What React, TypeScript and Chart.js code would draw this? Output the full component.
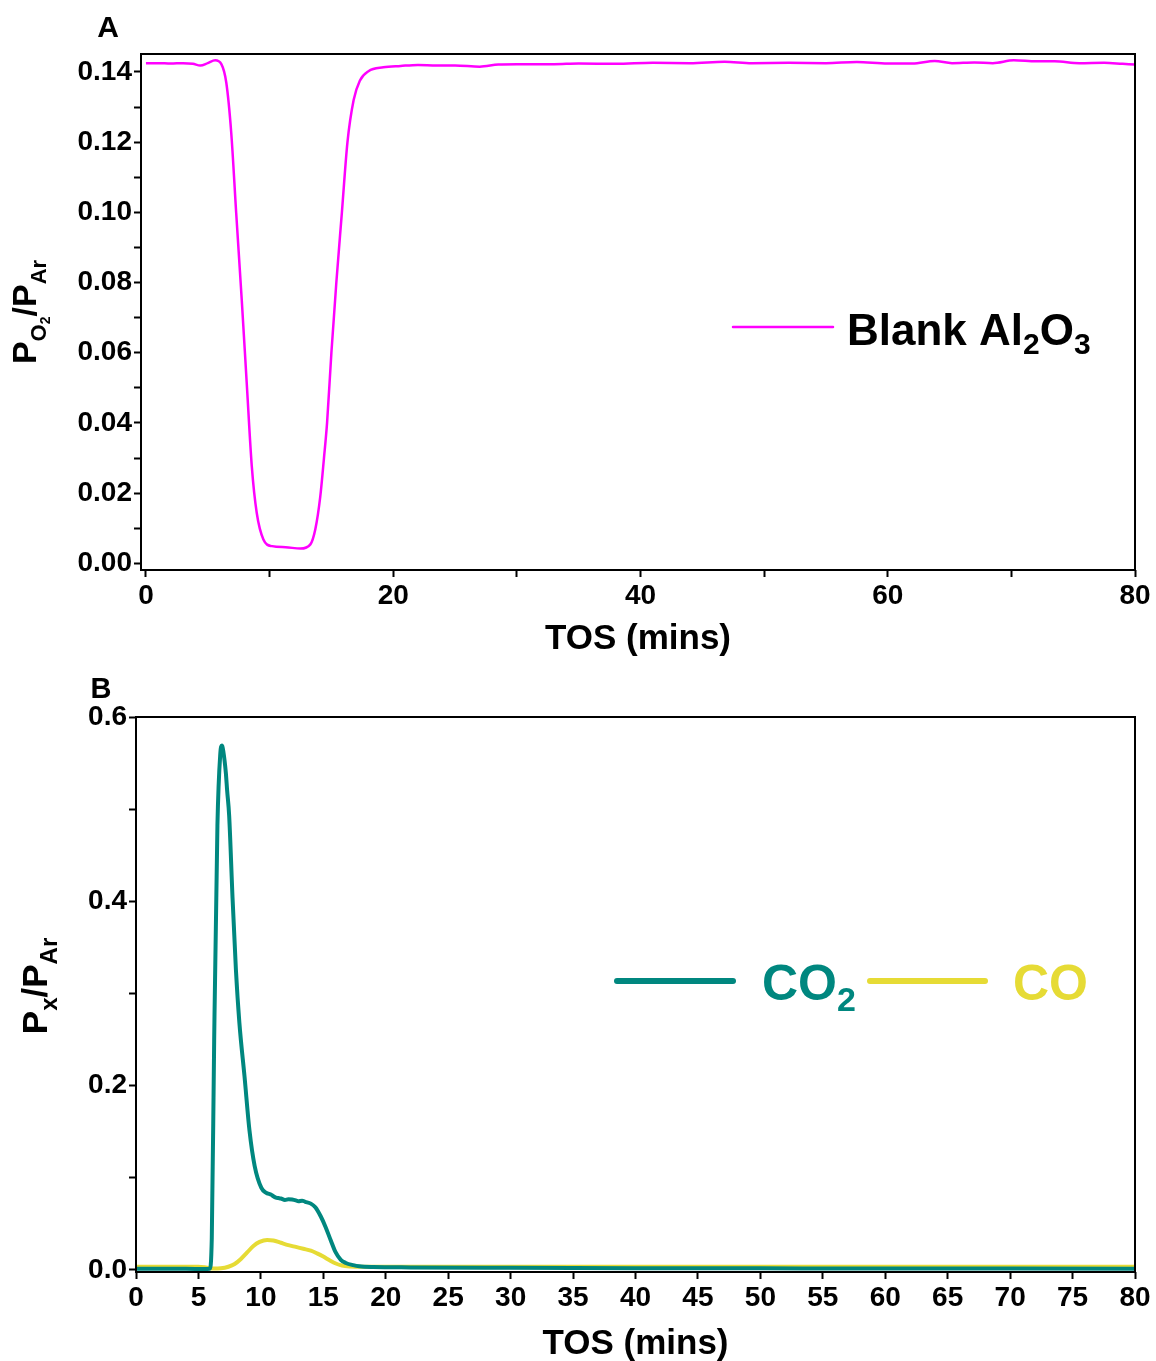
import React, { useEffect, useRef } from "react";
import { Chart, registerables } from "chart.js";

Chart.register(...registerables);

const FONT = '"Liberation Sans", Arial, Helvetica, sans-serif';

// Panel A: O2/Ar ratio over blank Al2O3 vs time on stream
const timeA = [
  0, 1, 2, 3, 3.8, 4.4, 5.0, 5.6, 6.1, 6.5, 6.9, 7.3, 7.75, 8.15, 8.56, 8.96,
  9.5, 10.2, 11.3, 12.5, 13.3, 13.7, 14.1, 14.4, 14.65, 15.0, 15.4, 15.85, 16.3,
  16.8, 17.3, 18.0, 19.2, 20.6, 22, 23.5, 25, 27, 28.5, 30, 33, 35, 38, 41, 44,
  46.8, 49, 52, 55, 57.5, 60, 62, 63.8, 65.2, 67, 68.5, 70.2, 72, 73.5, 75.5,
  77.5, 79, 80,
];
const o2A = [
  0.1425, 0.1425, 0.1424, 0.1425, 0.1423, 0.1418, 0.1425, 0.1433, 0.1422,
  0.1369, 0.1226, 0.0998, 0.075, 0.0515, 0.0277, 0.0144, 0.0068, 0.0049,
  0.0046, 0.0042, 0.0054, 0.0097, 0.019, 0.03, 0.04, 0.06, 0.08, 0.1, 0.12,
  0.132, 0.1375, 0.1402, 0.1413, 0.1417, 0.142, 0.1418, 0.1418, 0.1415, 0.1421,
  0.1422, 0.1422, 0.1424, 0.1423, 0.1426, 0.1425, 0.1429, 0.1425, 0.1426,
  0.1425, 0.1428, 0.1424, 0.1424, 0.1431, 0.1425, 0.1427, 0.1425, 0.1433,
  0.143, 0.143, 0.1425, 0.1426, 0.1423, 0.1421,
];
const xTicksA = [0, 10, 20, 30, 40, 50, 60, 70, 80];
const xLabelsA = [0, 20, 40, 60, 80];
const yTicksA = [
  0, 0.01, 0.02, 0.03, 0.04, 0.05, 0.06, 0.07, 0.08, 0.09, 0.1, 0.11, 0.12,
  0.13, 0.14,
];
const yLabelsA = [0, 0.02, 0.04, 0.06, 0.08, 0.1, 0.12, 0.14];

// Panel B: CO2/Ar and CO/Ar vs time on stream
const timeCO2 = [
  0, 2, 4, 5.5, 5.9, 6.07, 6.26, 6.52, 6.75, 6.88, 7.0, 7.19, 7.3, 7.46, 7.73,
  8.0, 8.28, 8.69, 9.09, 9.5, 10.04, 10.4, 10.85, 11.0, 11.2, 11.4, 11.6,
  11.93, 12.2, 12.5, 12.8, 13.0, 13.3, 13.55, 14.0, 14.36, 14.8, 15.17, 15.6,
  15.97, 16.4, 16.8, 17.4, 17.88, 19, 22, 30, 40, 50, 60, 70, 80,
];
const co2B = [
  0.0012, 0.0012, 0.0012, 0.001, 0.0012, 0.035, 0.249, 0.482, 0.56, 0.569,
  0.562, 0.54, 0.52, 0.493, 0.404, 0.326, 0.268, 0.21, 0.151, 0.113, 0.089,
  0.084, 0.0815, 0.08, 0.0785, 0.078, 0.0775, 0.076, 0.0768, 0.0765, 0.0755,
  0.0745, 0.0752, 0.074, 0.072, 0.068, 0.058, 0.047, 0.032, 0.0196, 0.011,
  0.0076, 0.0052, 0.004, 0.0032, 0.0028, 0.0024, 0.002, 0.0018, 0.0016,
  0.0015, 0.0014,
];
const timeCO = [
  0, 3, 5, 5.6, 6.2, 6.8, 7.4, 7.9, 8.4, 8.9, 9.4, 9.9, 10.5, 11.0, 11.6, 12.2,
  12.8, 13.4, 14.0, 14.5, 15.0, 15.5, 16.0, 16.5, 17.2, 18, 25, 40, 60, 80,
];
const coB = [
  0.0036, 0.0036, 0.0036, 0.0028, 0.0015, 0.0018, 0.0035, 0.0065, 0.012, 0.019,
  0.026, 0.0305, 0.0326, 0.032, 0.0295, 0.027, 0.025, 0.023, 0.021, 0.018,
  0.0145, 0.0105, 0.007, 0.0048, 0.0038, 0.0035, 0.0036, 0.0036, 0.0036,
  0.0036,
];
const xTicksB = [
  0, 5, 10, 15, 20, 25, 30, 35, 40, 45, 50, 55, 60, 65, 70, 75, 80,
];
const yTicksB = [0, 0.1, 0.2, 0.3, 0.4, 0.5, 0.6];
const yLabelsB = [0, 0.2, 0.4, 0.6];

const MAGENTA = "#FF00FF";
const TEAL = "#00877F";
const YELLOW = "#E6DB35";

type Run = { text: string; size: number; shift: number };

function runsWidth(ctx: CanvasRenderingContext2D, runs: Run[]) {
  let w = 0;
  for (const r of runs) {
    ctx.font = `bold ${r.size}px ${FONT}`;
    w += ctx.measureText(r.text).width;
  }
  return w;
}

function drawRuns(
  ctx: CanvasRenderingContext2D,
  runs: Run[],
  x: number,
  y: number,
  align: "left" | "center",
  color: string
) {
  ctx.save();
  ctx.fillStyle = color;
  ctx.textAlign = "left";
  ctx.textBaseline = "alphabetic";
  let cx = align === "center" ? x - runsWidth(ctx, runs) / 2 : x;
  for (const r of runs) {
    ctx.font = `bold ${r.size}px ${FONT}`;
    ctx.fillText(r.text, cx, y + r.shift);
    cx += ctx.measureText(r.text).width;
  }
  ctx.restore();
}

function drawRotatedRuns(
  ctx: CanvasRenderingContext2D,
  runs: Run[],
  x: number,
  y: number
) {
  ctx.save();
  ctx.translate(x, y);
  ctx.rotate(-Math.PI / 2);
  drawRuns(ctx, runs, 0, 0, "center", "#000");
  ctx.restore();
}

function legendLine(
  ctx: CanvasRenderingContext2D,
  x1: number,
  x2: number,
  y: number,
  color: string,
  width: number
) {
  ctx.save();
  ctx.strokeStyle = color;
  ctx.lineWidth = width;
  ctx.lineCap = "round";
  ctx.beginPath();
  ctx.moveTo(x1, y);
  ctx.lineTo(x2, y);
  ctx.stroke();
  ctx.restore();
}

const isIn = (list: number[], v: number) =>
  list.some((l) => Math.abs(l - v) < 1e-9);

function linearAxis(opts: {
  min: number;
  max: number;
  ticks: number[];
  labels: number[];
  digits: number;
  fit: (scale: any) => void;
}) {
  return {
    type: "linear" as const,
    min: opts.min,
    max: opts.max,
    afterBuildTicks: (scale: any) => {
      scale.ticks = opts.ticks.map((v) => ({ value: v }));
    },
    afterFit: opts.fit,
    border: { display: false },
    grid: {
      display: true,
      drawOnChartArea: false,
      drawTicks: true,
      tickLength: 7,
      tickWidth: 2,
      tickColor: "#000",
    },
    ticks: {
      autoSkip: false,
      maxRotation: 0,
      minRotation: 0,
      padding: 2,
      color: "#000",
      font: { family: FONT, size: 28, weight: "bold" as const },
      callback: (value: any) =>
        isIn(opts.labels, Number(value)) ? Number(value).toFixed(opts.digits) : "",
    },
  };
}

function frame(ctx: CanvasRenderingContext2D, area: any) {
  ctx.save();
  ctx.strokeStyle = "#000";
  ctx.lineWidth = 2;
  ctx.strokeRect(area.left, area.top, area.right - area.left, area.bottom - area.top);
  ctx.restore();
}

function buildChartA(canvas: HTMLCanvasElement) {
  const decor = {
    id: "decorA",
    afterDraw(chart: any) {
      const ctx: CanvasRenderingContext2D = chart.ctx;
      frame(ctx, chart.chartArea);
      drawRuns(ctx, [{ text: "A", size: 30, shift: 0 }], 108, 37, "center", "#000");
      drawRuns(
        ctx,
        [{ text: "TOS (mins)", size: 35, shift: 0 }],
        (chart.chartArea.left + chart.chartArea.right) / 2,
        649,
        "center",
        "#000"
      );
      drawRotatedRuns(
        ctx,
        [
          { text: "P", size: 34, shift: 0 },
          { text: "O", size: 22, shift: 10 },
          { text: "2", size: 14, shift: 14 },
          { text: "/P", size: 34, shift: 0 },
          { text: "Ar", size: 22, shift: 10 },
        ],
        36,
        312
      );
      legendLine(ctx, 733, 833, 327, MAGENTA, 2.5);
      drawRuns(
        ctx,
        [
          { text: "Blank Al", size: 44, shift: 0 },
          { text: "2", size: 30, shift: 9 },
          { text: "O", size: 44, shift: 0 },
          { text: "3", size: 30, shift: 9 },
        ],
        847,
        345,
        "left",
        "#000"
      );
    },
  };
  return new Chart(canvas, {
    type: "line",
    data: {
      datasets: [
        {
          label: "Blank Al2O3",
          data: timeA.map((t, i) => ({ x: t, y: o2A[i] })),
          borderColor: MAGENTA,
          borderWidth: 2.5,
          pointRadius: 0,
          cubicInterpolationMode: "monotone",
          fill: false,
        },
      ],
    },
    options: {
      responsive: false,
      animation: false,
      devicePixelRatio: 1,
      layout: { padding: { left: 0, right: 21, top: 54, bottom: 0 } },
      plugins: { legend: { display: false }, tooltip: { enabled: false } },
      scales: {
        x: linearAxis({
          min: -0.4,
          max: 80,
          ticks: xTicksA,
          labels: xLabelsA,
          digits: 0,
          fit: (s: any) => {
            s.height = 90;
          },
        }),
        y: linearAxis({
          min: -0.0019,
          max: 0.1451,
          ticks: yTicksA,
          labels: yLabelsA,
          digits: 2,
          fit: (s: any) => {
            s.width = 141;
          },
        }),
      },
    },
    plugins: [decor],
  } as any);
}

function buildChartB(canvas: HTMLCanvasElement) {
  const decor = {
    id: "decorB",
    afterDraw(chart: any) {
      const ctx: CanvasRenderingContext2D = chart.ctx;
      frame(ctx, chart.chartArea);
      drawRuns(ctx, [{ text: "B", size: 29, shift: 0 }], 101, 38, "center", "#000");
      drawRuns(
        ctx,
        [{ text: "TOS (mins)", size: 35, shift: 0 }],
        (chart.chartArea.left + chart.chartArea.right) / 2,
        694,
        "center",
        "#000"
      );
      drawRotatedRuns(
        ctx,
        [
          { text: "P", size: 35, shift: 0 },
          { text: "x", size: 24, shift: 10 },
          { text: "/P", size: 35, shift: 0 },
          { text: "Ar", size: 24, shift: 10 },
        ],
        47,
        326
      );
      legendLine(ctx, 617, 733, 321, TEAL, 6);
      drawRuns(
        ctx,
        [
          { text: "CO", size: 50, shift: 0 },
          { text: "2", size: 34, shift: 11 },
        ],
        762,
        340,
        "left",
        TEAL
      );
      legendLine(ctx, 870, 985, 321, YELLOW, 6);
      drawRuns(ctx, [{ text: "CO", size: 50, shift: 0 }], 1013, 340, "left", YELLOW);
    },
  };
  return new Chart(canvas, {
    type: "line",
    data: {
      datasets: [
        {
          label: "CO2",
          data: timeCO2.map((t, i) => ({ x: t, y: co2B[i] })),
          borderColor: TEAL,
          borderWidth: 4,
          pointRadius: 0,
          cubicInterpolationMode: "monotone",
          fill: false,
        },
        {
          label: "CO",
          data: timeCO.map((t, i) => ({ x: t, y: coB[i] })),
          borderColor: YELLOW,
          borderWidth: 4,
          pointRadius: 0,
          cubicInterpolationMode: "monotone",
          fill: false,
        },
      ],
    },
    options: {
      responsive: false,
      animation: false,
      devicePixelRatio: 1,
      layout: { padding: { left: 0, right: 21, top: 57, bottom: 0 } },
      plugins: { legend: { display: false }, tooltip: { enabled: false } },
      scales: {
        x: linearAxis({
          min: 0,
          max: 80,
          ticks: xTicksB,
          labels: xTicksB,
          digits: 0,
          fit: (s: any) => {
            s.height = 89;
          },
        }),
        y: linearAxis({
          min: -0.0022,
          max: 0.6,
          ticks: yTicksB,
          labels: yLabelsB,
          digits: 1,
          fit: (s: any) => {
            s.width = 136;
          },
        }),
      },
    },
    plugins: [decor],
  } as any);
}

export default function App() {
  const refA = useRef<HTMLCanvasElement | null>(null);
  const refB = useRef<HTMLCanvasElement | null>(null);

  useEffect(() => {
    if (!refA.current || !refB.current) return;
    const a = buildChartA(refA.current);
    const b = buildChartB(refB.current);
    return () => {
      a.destroy();
      b.destroy();
    };
  }, []);

  return (
    <div
      style={{
        position: "absolute",
        left: 0,
        top: 0,
        width: 1156,
        height: 1361,
        background: "#fff",
      }}
    >
      <canvas
        ref={refA}
        width={1156}
        height={660}
        style={{ position: "absolute", left: 0, top: 0, width: 1156, height: 660 }}
      />
      <canvas
        ref={refB}
        width={1156}
        height={701}
        style={{ position: "absolute", left: 0, top: 660, width: 1156, height: 701 }}
      />
    </div>
  );
}
